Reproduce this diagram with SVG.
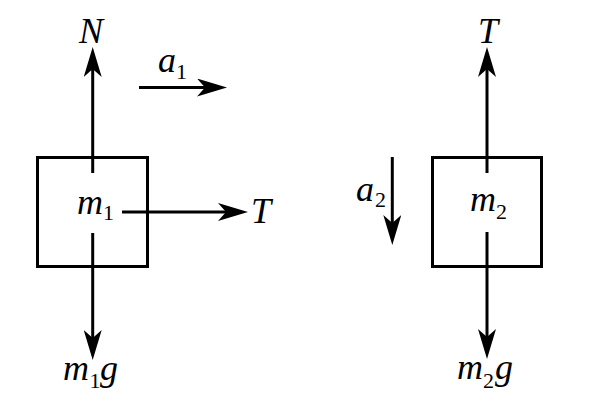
<svg xmlns="http://www.w3.org/2000/svg" width="590" height="413" viewBox="0 0 590 413">
<style>
.box{fill:none;stroke:#000;stroke-width:3}
.ln{fill:none;stroke:#000;stroke-width:3;marker-end:url(#ah)}
.it{font-family:"Liberation Serif","Times New Roman",serif;font-style:italic;font-size:36px;fill:#000}
.sub{font-family:"Liberation Serif","Times New Roman",serif;font-size:22px;fill:#000}
</style>
<defs>
<marker id="ah" markerUnits="userSpaceOnUse" markerWidth="30" markerHeight="18" viewBox="0 0 30 18" refX="8" refY="9" orient="auto">
<path d="M30,9 L0,0 L8,9 L0,18 Z" fill="#000"/>
</marker>
</defs>
<rect width="590" height="413" fill="#fff"/>
<g id="block1">
<rect class="box" x="37.5" y="157.5" width="110" height="109"/>
<text class="it" x="77" y="214">m</text><text class="sub" x="103" y="220">1</text>
</g>
<g id="block2">
<rect class="box" x="432.5" y="157.5" width="109" height="109"/>
<text class="it" x="470" y="211">m</text><text class="sub" x="496" y="219">2</text>
</g>
<g id="connectors">
<line class="ln" x1="92.7" y1="173" x2="92.7" y2="69"/>
<line class="ln" x1="92.7" y1="233" x2="92.7" y2="338"/>
<line class="ln" x1="139" y1="87.5" x2="205" y2="87.5"/>
<line class="ln" x1="122" y1="212" x2="226" y2="212"/>
<line class="ln" x1="392.3" y1="157" x2="392.3" y2="223"/>
<line class="ln" x1="487" y1="173" x2="487" y2="69"/>
<line class="ln" x1="487" y1="232" x2="487" y2="337"/>
</g>
<g id="labels">
<text class="it" x="79" y="43">N</text>
<text class="it" x="158" y="72">a</text><text class="sub" x="176" y="79">1</text>
<text class="it" x="251" y="223">T</text>
<text class="it" x="63" y="380">m</text><text class="sub" x="89.5" y="388">1</text><text class="it" x="100" y="380">g</text>
<text class="it" x="478" y="43">T</text>
<text class="it" x="356" y="201">a</text><text class="sub" x="375" y="207">2</text>
<text class="it" x="457" y="379">m</text><text class="sub" x="483" y="388">2</text><text class="it" x="495" y="379">g</text>
</g>
</svg>
